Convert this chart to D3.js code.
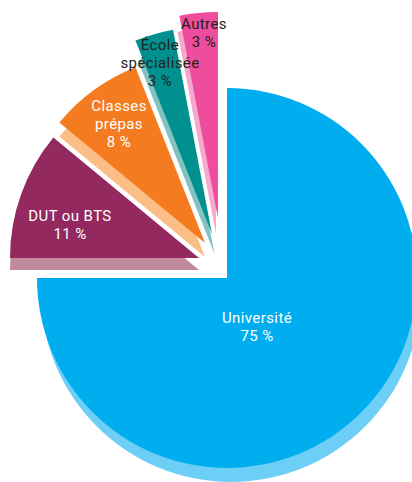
<!DOCTYPE html>
<html><head><meta charset="utf-8">
<script src="https://cdn.jsdelivr.net/npm/d3@7"></script>
<style>body{margin:0;background:#fff} svg{display:block}</style>
</head><body>
<script>
// ---- data ----
const categories = ["Université", "DUT ou BTS", "Classes prépas", "École spécialisée", "Autres"];
const values = [75, 11, 8, 3, 3];
const labelLines = [["Université", "75 %"], ["DUT ou BTS", "11 %"], ["Classes", "prépas", "8 %"], ["École", "spécialisée", "3 %"], ["Autres", "3 %"]];

// ---- styles / layout ----
const W = 412, H = 482;
const topColors  = ["#00AEEF", "#93295F", "#F47B20", "#00918E", "#EE4C9C"];
const sideColors = ["#6DCFF6", "#C08A9B", "#FBBE87", "#82C3C1", "#F6A9CE"];
const textColors = ["#ffffff", "#ffffff", "#ffffff", "#231F20", "#231F20"];
const apex   = [[227, 278], [199, 258], [205, 243], [212, 234], [218, 218]];
const radii  = [190, 189, 189, 208, 206];
const depth  = [[4, 14], [0, 12], [0, 14], [2.5, 20], [-2, 16]];
const labelAt = [[257, 323], [70, 221], [119, 111], [160, 50], [204, 29]];

const svg = d3.select("body").append("svg").attr("width", W).attr("height", H);
const pie = d3.pie().sort(null).startAngle(0).endAngle(2 * Math.PI);
const arcs = pie(values);

arcs.forEach((a, i) => {
  const arc = d3.arc().innerRadius(0).outerRadius(radii[i]);
  const g = svg.append("g").attr("transform", `translate(${apex[i][0]},${apex[i][1]})`);
  g.append("path").attr("d", arc(a)).attr("fill", sideColors[i])
    .attr("transform", `translate(${depth[i][0]},${depth[i][1]})`);
  g.append("path").attr("d", arc(a)).attr("fill", topColors[i]);
});

arcs.forEach((a, i) => {
  labelLines[i].forEach((l, j) => {
    svg.append("text")
      .attr("x", labelAt[i][0]).attr("y", labelAt[i][1] + j * 18)
      .attr("text-anchor", "middle")
      .attr("font-family", "Roboto, sans-serif")
      .attr("font-size", 15)
      .attr("letter-spacing", 0.4)
      .attr("fill", textColors[i])
      .text(l);
  });
});
</script>
</body></html>
